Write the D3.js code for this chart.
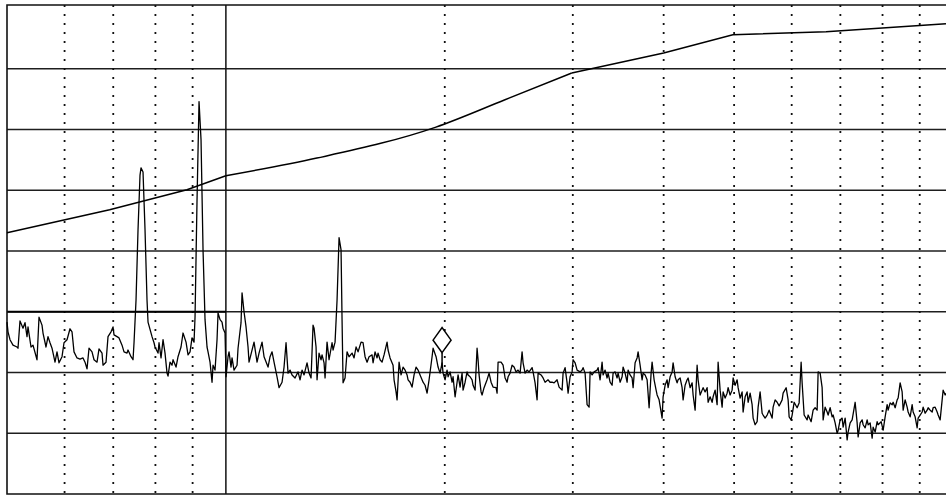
<!DOCTYPE html>
<html lang="en">
<head>
    <meta charset="utf-8">
    <title>Spectrum Plot</title>
    <style>
        body { margin: 0; background: #fff; }
    </style>
</head>
<body>

<div id="chart"></div>

<script src="https://d3js.org/d3.v7.min.js"></script>

<script type="text/javascript">

    // frequency axis is logarithmic, 0.5 .. 10 (unlabelled)
    var BINS_PER_DECADE = 727;
    var startFreq = 0.5;

    var gridFreqs = [0.6, 0.7, 0.8, 0.9, 2, 3, 4, 5, 6, 7, 8, 9];
    var refFreq = 1;
    var gridLevels = [10, 20, 30, 40, 50, 60, 70];

    // upper (threshold) curve, freq / level in dB
    var curveFreq = [0.5, 0.692, 0.884, 1.0, 1.334, 1.945, 2.42, 2.99, 4.0, 4.98, 6.69, 9.78];
    var curveLevel = [43.0, 46.8, 50.1, 52.4, 55.3, 60.4, 64.9, 69.3, 72.6, 75.6, 76.1, 77.4];
    // the curve bends smoothly between these two knots, straight elsewhere
    var arcFrom = 1.0, arcTo = 2.99;

    // heavier reference segment on the 30 dB line, left of 1
    var refSegment = {from: 0.5, to: 1, level: 30};

    // measured spectrum: [log bin, level dB]
    var trace = [
        [0,28.3],[1,26.7],[3,25.4],[6,24.5],[10,24.2],[11,24.0],[13,28.5],[16,27.3],[18,28.2],[20,25.9],
        [21,27.5],[24,24.2],[26,24.5],[30,22.1],[32,29.1],[35,27.8],[36,26.5],[39,24.2],[41,25.9],[43,24.9],
        [45,24.0],[48,21.7],[50,23.4],[52,21.6],[55,22.6],[57,24.9],[60,25.4],[63,27.2],[65,26.7],[67,23.4],
        [70,22.4],[73,22.2],[76,22.4],[78,21.7],[80,20.6],[82,24.0],[85,23.4],[87,22.1],[90,21.7],[92,23.9],
        [95,23.2],[96,21.2],[99,21.7],[101,25.9],[104,26.7],[106,27.5],[107,26.2],[110,25.9],[112,25.7],[115,24.5],
        [117,23.4],[120,23.2],[121,23.7],[124,22.6],[126,22.1],[127,24.9],
        [129,31.9],[131,43.5],[133,52.5],[134,53.7],[136,53.0],[138,43.5],[140,31.9],[141,28.3],[145,25.9],[147,24.9],
        [148,24.2],[151,23.2],[152,24.9],[154,22.4],[156,25.4],[158,23.2],[160,19.9],[161,19.4],[163,21.7],[165,21.2],
        [166,22.1],[169,20.9],[171,22.6],[174,24.2],[176,26.5],[179,25.0],[181,22.9],[183,23.4],[185,25.7],[187,25.0],
        [188,29.1],[190,48.4],[192,64.6],[194,58.3],[196,40.2],[198,28.7],[200,24.2],[201,23.4],[203,21.7],[205,18.4],
        [206,21.2],[208,20.4],[210,25.4],[211,29.8],[213,28.7],[215,28.3],[216,27.3],[218,26.5],[219,19.3],[221,22.6],
        [222,23.4],[224,20.9],[225,22.4],[227,20.4],[230,21.2],[231,24.0],[234,28.2],[235,33.1],[237,30.0],[239,27.5],
        [241,24.2],[242,21.7],[245,23.7],[247,25.0],[250,21.7],[252,23.2],[255,25.0],[257,22.6],[261,20.9],[263,22.6],
        [265,23.4],[267,21.7],[270,19.3],[272,17.5],[275,18.4],[277,20.9],[279,24.9],[281,19.9],[283,20.4],[285,19.6],
        [288,19.1],[291,20.1],[293,18.8],[295,20.4],[297,19.6],[300,21.6],[302,19.9],[304,19.1],[306,27.8],[307,27.3],
        [309,24.2],[310,18.8],[312,23.2],[314,22.1],[315,22.9],[317,21.6],[318,19.1],[320,25.0],[322,22.1],[325,24.9],
        [326,23.7],[328,25.0],
        [330,31.9],[332,42.2],[334,40.2],[335,28.7],[336,18.3],[338,19.1],[340,23.4],[342,22.6],[345,23.2],[347,22.4],
        [349,24.2],[351,23.4],[354,25.0],[356,24.9],[358,22.6],[360,21.7],[362,22.6],[365,22.9],[366,21.6],[368,23.4],
        [370,22.4],[371,23.2],[373,22.1],[375,21.7],[377,22.9],[380,25.0],[381,23.7],[383,22.4],[386,21.2],[387,18.8],
        [389,16.8],[390,15.5],[392,21.7],[394,19.6],[396,20.9],[398,20.4],[400,19.6],[401,18.8],[403,18.4],[405,17.6],
        [407,19.6],[409,20.9],[411,20.4],[413,19.6],[416,18.4],[418,17.9],[420,16.6],[422,18.8],[425,22.6],[426,24.0],
        [429,22.6],[431,20.9],[433,19.9],[435,21.6],[436,19.9],[438,18.8],[440,20.4],[441,19.3],[443,20.1],[445,18.4],
        [446,19.3],[448,16.0],[450,18.4],[451,19.6],[453,17.6],[455,19.9],[456,17.1],[458,18.4],[460,20.1],[461,19.6],
        [463,19.3],[465,18.8],[466,17.9],[468,17.1],[470,24.0],[471,22.1],[472,19.6],[474,16.8],[475,16.3],[477,17.5],
        [480,18.8],[482,19.9],[484,18.4],[486,17.6],[489,17.5],[490,16.6],[491,21.7],[494,21.7],[496,21.2],[498,19.1],
        [500,18.4],[501,19.3],[503,19.9],[505,21.2],[507,20.9],[509,20.1],[511,20.4],[513,19.9],[515,23.4],[516,21.6],
        [518,19.9],[520,20.4],[522,20.1],[525,20.8],[526,20.1],[528,18.3],[530,15.5],[531,19.9],[534,19.6],[536,19.1],
        [538,18.4],[541,18.8],[543,18.4],[545,18.4],[547,18.3],[550,18.8],[552,17.6],[555,17.1],[556,19.9],[558,20.8],
        [560,18.3],[561,16.6],[563,19.3],[565,20.1],[566,22.1],[568,21.6],[570,20.4],[573,20.1],[575,20.4],[576,20.8],
        [578,19.9],[580,14.7],[582,14.3],[583,20.1],[585,19.6],[587,20.1],[590,20.4],[591,20.8],[593,18.8],[595,21.7],
        [596,19.6],[598,20.4],[600,19.1],[601,19.9],[603,18.4],[605,17.9],[606,19.9],[608,20.1],[610,19.1],[611,19.9],
        [613,18.4],[615,19.3],[616,20.9],[618,19.9],[620,18.4],[621,20.4],[623,19.6],[625,19.1],[626,17.5],[628,21.6],
        [630,22.4],[631,23.4],[633,21.2],[635,18.8],[636,19.9],[638,19.6],[640,18.8],[642,14.2],[644,19.9],[645,21.7],
        [647,18.8],[649,17.1],[650,16.3],[652,15.5],[655,12.5],[656,16.0],[658,17.9],[660,18.8],[661,17.5],[663,19.3],
        [665,20.1],[666,21.6],[668,19.3],[670,18.3],[671,18.8],[673,19.1],[675,17.5],[676,15.5],[678,17.9],[680,18.8],
        [681,19.1],[683,17.5],[685,18.3],[686,16.3],[688,13.8],[690,21.2],[691,18.8],[693,16.3],[695,17.1],[696,17.5],
        [698,16.8],[700,17.5],[701,15.1],[703,16.0],[705,15.1],[706,16.0],[708,17.1],[710,14.7],[711,21.7],[713,17.1],
        [715,14.3],[716,16.8],[718,15.8],[720,16.6],[721,17.5],[723,16.3],[725,17.1],[726,19.1],[728,17.9],[730,18.8],
        [731,17.5],[733,15.8],[735,16.8],[736,13.5],[738,16.0],[740,16.8],[741,15.1],[743,16.6],[745,14.7],[746,12.5],
        [748,11.4],[750,11.9],[751,14.3],[753,16.8],[755,13.3],[756,13.0],[758,12.5],[760,13.0],[762,13.8],[765,12.5],
        [766,14.3],[768,15.5],[770,15.1],[772,14.5],[775,15.5],[776,16.6],[779,17.5],[781,15.5],[782,12.7],[784,12.2],
        [785,13.0],[787,15.1],[790,14.2],[792,15.0],[794,21.7],[795,18.3],[797,13.0],[800,12.2],[801,13.0],[804,11.9],
        [806,13.8],[808,14.2],[810,13.8],[811,20.1],[813,19.9],[815,17.5],[816,12.2],[818,14.3],[820,13.5],[821,13.0],
        [823,14.2],[825,12.7],[826,13.0],[828,11.7],[830,10.0],[831,10.5],[833,12.2],[835,12.5],[836,11.0],[838,12.5],
        [840,8.9],[841,10.2],[843,11.7],[845,12.2],[848,15.1],[850,11.7],[851,9.4],[853,11.7],[855,12.2],[856,11.4],
        [858,10.9],[860,12.2],[861,11.4],[863,11.7],[865,9.2],[866,11.0],[868,10.2],[870,11.9],[871,11.4],[874,11.9],
        [876,10.5],[878,12.7],[880,14.7],[881,13.8],[883,15.0],[885,14.7],[886,15.1],[888,14.2],[890,15.5],[891,15.8],
        [893,18.3],[895,16.8],[896,13.8],[898,15.5],[900,14.3],[901,13.5],[903,12.7],[905,14.7],[906,13.5],[908,12.7],
        [910,10.9],[911,12.5],[913,13.0],[915,13.5],[916,14.3],[918,13.3],[920,13.8],[921,14.2],[923,13.8],[925,13.5],
        [926,14.2],[928,14.3],[930,13.5],[931,13.0],[933,12.2],[935,15.5],[936,17.1],[938,16.3],[940,16.8]
    ];

    // diamond marker sitting on the trace
    var markerBin = 435;
    var markerLevel = 20.8;

    var width = 946,
            height = 495;

    var svg = d3.select("#chart")
            .append("svg")
            .attr("width", width)
            .attr("height", height);

    var x = d3.scaleLog().domain([0.5, 10]).range([7, 953]);
    var y = d3.scaleLinear().domain([0, 80.5]).range([494, 5]);

    function binFreq(b) {
        return startFreq * Math.pow(10, b / BINS_PER_DECADE);
    }

    var x0 = x(startFreq);

    // horizontal grid
    svg.selectAll(".hgrid")
            .data(gridLevels)
            .enter().append("line")
            .attr("class", "hgrid")
            .attr("x1", x0)
            .attr("x2", width)
            .attr("y1", function (d) { return y(d); })
            .attr("y2", function (d) { return y(d); })
            .style("stroke", "#1e1e1e")
            .style("stroke-width", "1.5");

    // vertical dotted grid
    svg.selectAll(".vgrid")
            .data(gridFreqs)
            .enter().append("line")
            .attr("class", "vgrid")
            .attr("x1", function (d) { return x(d); })
            .attr("x2", function (d) { return x(d); })
            .attr("y1", y(80.5))
            .attr("y2", y(0))
            .style("stroke", "#111")
            .style("stroke-width", "1.8")
            .style("stroke-dasharray", ("2, 7"));

    // solid reference line at 1
    svg.append("line")
            .attr("x1", x(refFreq))
            .attr("x2", x(refFreq))
            .attr("y1", y(80.5))
            .attr("y2", y(0))
            .style("stroke", "#111")
            .style("stroke-width", "1.5");

    svg.append("line")
            .attr("x1", x(refSegment.from))
            .attr("x2", x(refSegment.to))
            .attr("y1", y(refSegment.level))
            .attr("y2", y(refSegment.level))
            .style("stroke", "#000")
            .style("stroke-width", "2.2");

    // frame (left, top, bottom)
    svg.append("path")
            .attr("d", "M" + width + "," + y(80.5) + "H" + x0 + "V" + y(0) + "H" + width)
            .style("fill", "none")
            .style("stroke", "#111")
            .style("stroke-width", "1.6");

    var curveData = curveFreq.map(function (f, i) {
        return [f, curveLevel[i]];
    });

    var line = d3.line()
            .x(function (d) { return x(d[0]); })
            .y(function (d) { return y(d[1]); });

    var arcLine = d3.line()
            .curve(d3.curveMonotoneX)
            .x(function (d) { return x(d[0]); })
            .y(function (d) { return y(d[1]); });

    var pieces = [
        {data: curveData.filter(function (d) { return d[0] <= arcFrom; }), gen: line},
        {data: curveData.filter(function (d) { return d[0] >= arcFrom && d[0] <= arcTo; }), gen: arcLine},
        {data: curveData.filter(function (d) { return d[0] >= arcTo; }), gen: line}
    ];

    pieces.forEach(function (p) {
        svg.append("path")
                .datum(p.data)
                .attr("d", p.gen)
                .style("fill", "none")
                .style("stroke", "#000")
                .style("stroke-width", "1.5");
    });

    var traceLine = d3.line()
            .x(function (d) { return x(binFreq(d[0])); })
            .y(function (d) { return y(d[1]); });

    svg.append("path")
            .datum(trace)
            .attr("d", traceLine)
            .style("fill", "none")
            .style("stroke", "#000")
            .style("stroke-width", "1.3")
            .style("stroke-linejoin", "round");

    // marker: short stem + diamond
    var mx = x(binFreq(markerBin)),
            my = y(markerLevel);

    svg.append("line")
            .attr("x1", mx)
            .attr("x2", mx)
            .attr("y1", my)
            .attr("y2", my - 15)
            .style("stroke", "#000")
            .style("stroke-width", "1.5");

    svg.append("path")
            .attr("d", "M" + mx + "," + (my - 15) + "l9,-12.5l-9,-12.5l-9,12.5z")
            .style("fill", "#fff")
            .style("stroke", "#000")
            .style("stroke-width", "1.5");

</script>
</body>
</html>
